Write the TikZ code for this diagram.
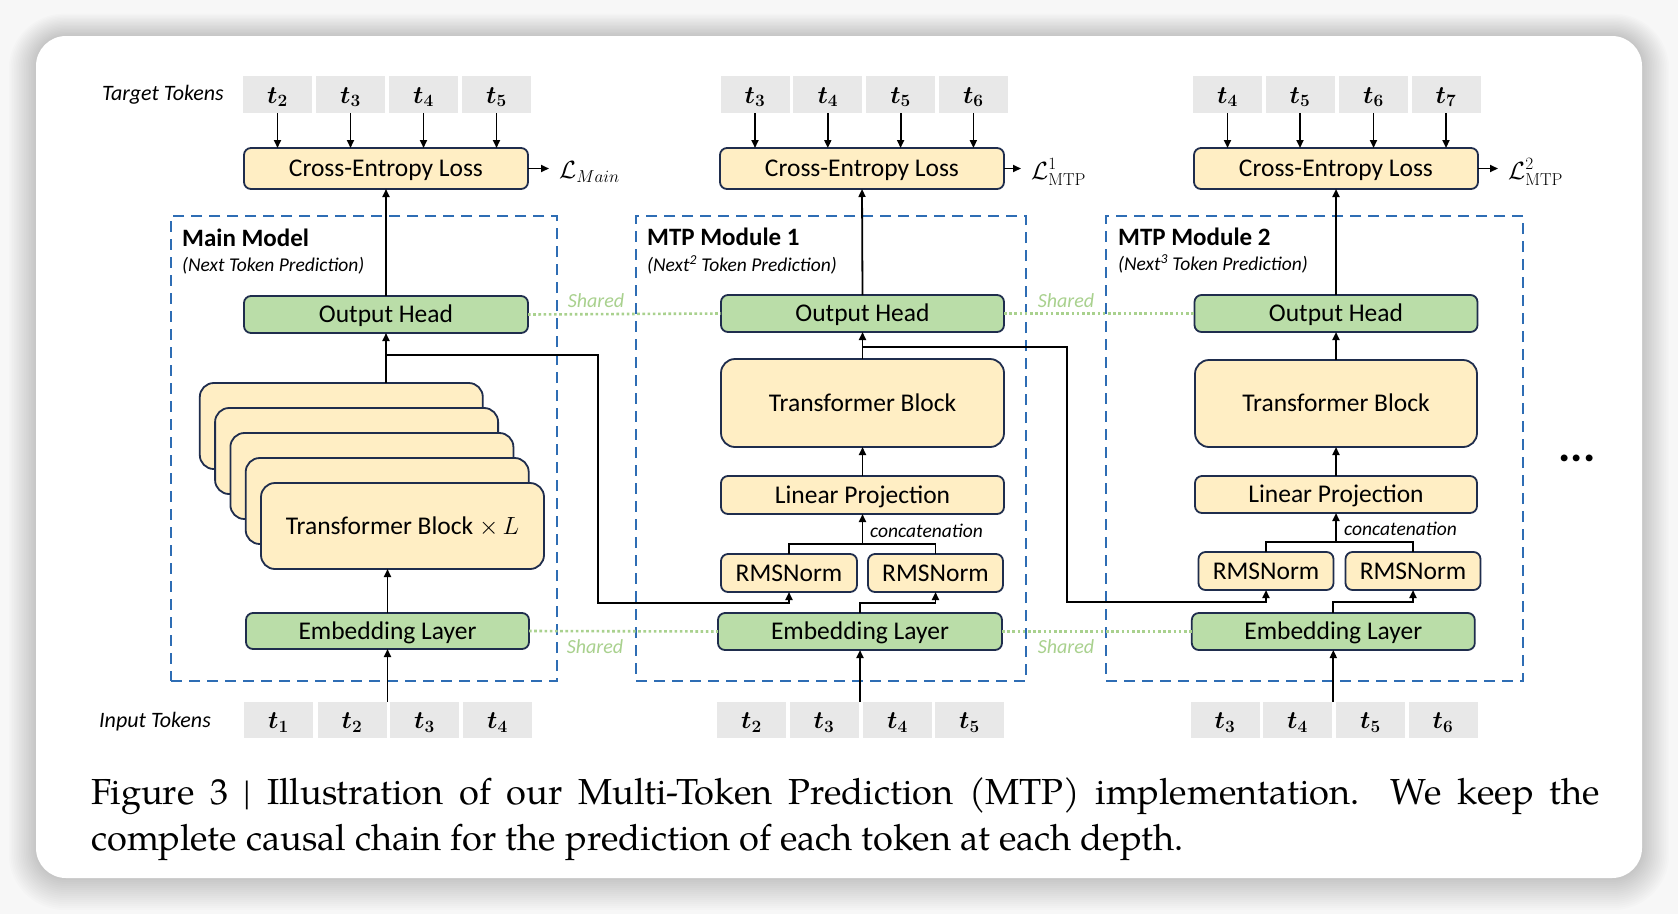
\documentclass[tikz,border=0pt]{standalone}
\usepackage[no-math]{fontspec}
\setmainfont{Carlito}
\newfontfamily\capfont{TeX Gyre Pagella}
\usetikzlibrary{arrows.meta,calc}
\definecolor{ylw}{HTML}{FFEEC4}
\definecolor{grn}{HTML}{BADDA8}
\definecolor{nav}{HTML}{1F2D4D}
\definecolor{dblue}{HTML}{2E6DB4}
\definecolor{shg}{HTML}{A9D18E}
\definecolor{tokg}{HTML}{E8E8E8}
\tikzset{
 blk/.style={draw=nav, line width=1.8pt, rounded corners=7pt, inner sep=0pt, outer sep=0pt, font=\fontsize{25.5}{30}\selectfont, text=black, text height=20pt, text depth=3.4pt},
 yblk/.style={blk, fill=ylw},
 gblk/.style={blk, fill=grn},
 bigblk/.style={yblk, rounded corners=14pt},
 tok/.style={fill=tokg, minimum width=69pt, minimum height=37pt, inner sep=0pt, outer sep=0pt, font=\fontsize{24}{28}\selectfont\boldmath, text height=20pt, text depth=3pt},
 arr/.style={line width=1.8pt, -{Triangle[length=8pt,width=7pt]}},
 ln/.style={line width=1.8pt},
 modbox/.style={draw=dblue, line width=2.6pt, dash pattern=on 11pt off 7pt, inner sep=0pt, outer sep=0pt},
 shline/.style={draw=shg, line width=2.6pt, dash pattern=on 2.6pt off 2.6pt},
 shtxt/.style={text=shg, font=\fontsize{20}{24}\selectfont\itshape, inner sep=0pt},
 lbl/.style={font=\fontsize{22}{26}\selectfont\itshape, inner sep=0pt, anchor=west},
 ttl/.style={font=\fontsize{25}{30}\selectfont\bfseries, inner sep=0pt, anchor=west},
 subt/.style={font=\fontsize{19.5}{24}\selectfont\itshape, inner sep=0pt, anchor=west},
 loss/.style={font=\fontsize{24}{28}\selectfont, inner sep=0pt, anchor=west},
 capf/.style={font=\capfont\fontsize{36.2}{46}\selectfont, inner sep=0pt, anchor=base west},
}
\begin{document}
\begin{tikzpicture}[x=1pt,y=-1pt]
\useasboundingbox (0,0) rectangle (1678,914);
% background and card
\fill[white!97!black] (0,0) rectangle (1678,914);
\foreach \k [evaluate=\k as \r using 30+\k*1.6] in {1,...,16}
  \fill[black, opacity=0.010, rounded corners=\r pt] ({36-\k*1.7},{36-\k*1.4}) rectangle ({1642+\k*1.7},{878+\k*2.0});
\fill[white, rounded corners=30pt] (36,36) rectangle (1642,878);

% ---------------- labels
\node[lbl] (tgtl) at (102,95) {Target Tokens};
\node[lbl] (inpl) at (99,722) {Input Tokens};

% ---------------- main model
\node[modbox, minimum width=386pt, minimum height=465pt] (mbox) at (364,448.5) {};
\node[ttl] (mtitle) at (182,238) {Main Model};
\node[subt] (msub) at (182,266) {(Next Token Prediction)};
\node[tok] (mt1) at (277.5,94.5) {$t_2$};
\node[tok] (mt2) at (350.5,94.5) {$t_3$};
\node[tok] (mt3) at (423.5,94.5) {$t_4$};
\node[tok] (mt4) at (496.5,94.5) {$t_5$};
\node[yblk, minimum width=284pt, minimum height=41pt] (mce) at (386,168.5) {Cross-Entropy Loss};
\node[loss] (mL) at (559,172) {$\mathcal{L}_{Main}$};
\node[gblk, minimum width=284pt, minimum height=37pt] (moh) at (386,314.5) {Output Head};
\foreach \i in {4,3,2,1}
  \node[bigblk, minimum width=283pt, minimum height=86pt] (ms\i) at ({402.5-\i*15.3},{526-\i*25}) {};
\node[bigblk, minimum width=283pt, minimum height=86pt] (mtb) at (402.5,526) {Transformer Block $\times\, L$};
\node[gblk, minimum width=283pt, minimum height=36pt] (memb) at (387.5,631) {Embedding Layer};
\node[tok, minimum height=36pt] (mi1) at (278.5,720) {$t_1$};
\node[tok, minimum height=36pt] (mi2) at (352,720) {$t_2$};
\node[tok, minimum height=36pt] (mi3) at (424.5,720) {$t_3$};
\node[tok, minimum height=36pt] (mi4) at (497.5,720) {$t_4$};

% ---------------- MTP module 1
\node[modbox, minimum width=390pt, minimum height=465pt] (abox) at (831,448.5) {};
\node[ttl] (atitle) at (647,237) {MTP Module 1};
\node[subt] (asub) at (647,265) {(Next\textsuperscript{2} Token Prediction)};
\node[tok] (at1) at (755,94.5) {$t_3$};
\node[tok] (at2) at (827.8,94.5) {$t_4$};
\node[tok] (at3) at (900.6,94.5) {$t_5$};
\node[tok] (at4) at (973.4,94.5) {$t_6$};
\node[yblk, minimum width=284pt, minimum height=41pt] (ace) at (862,168.5) {Cross-Entropy Loss};
\node[loss] (aL) at (1031,172) {$\mathcal{L}^{1}_{\mathrm{MTP}}$};
\node[gblk, minimum width=283pt, minimum height=37pt] (aoh) at (862.5,313.5) {Output Head};
\node[bigblk, minimum width=283pt, minimum height=88pt] (atb) at (862.5,403) {Transformer Block};
\node[yblk, minimum width=283pt, minimum height=38pt] (alp) at (862.5,495) {Linear Projection};
\node[yblk, minimum width=136pt, minimum height=38pt] (arl) at (789,573) {RMSNorm};
\node[yblk, minimum width=135pt, minimum height=38pt] (arr) at (935.5,573) {RMSNorm};
\node[gblk, minimum width=284pt, minimum height=37pt] (aemb) at (860,631.5) {Embedding Layer};
\node[tok, minimum height=36pt] (ai1) at (751.5,720) {$t_2$};
\node[tok, minimum height=36pt] (ai2) at (824,720) {$t_3$};
\node[tok, minimum height=36pt] (ai3) at (897.5,720) {$t_4$};
\node[tok, minimum height=36pt] (ai4) at (969.5,720) {$t_5$};
\node[subt] (acat) at (870,531) {concatenation};

% ---------------- MTP module 2
\node[modbox, minimum width=417pt, minimum height=465pt] (bbox) at (1314.5,448.5) {};
\node[ttl] (btitle) at (1118,237) {MTP Module 2};
\node[subt] (bsub) at (1118,264) {(Next\textsuperscript{3} Token Prediction)};
\node[tok] (bt1) at (1227.5,94.5) {$t_4$};
\node[tok] (bt2) at (1300,94.5) {$t_5$};
\node[tok] (bt3) at (1373.5,94.5) {$t_6$};
\node[tok] (bt4) at (1446,94.5) {$t_7$};
\node[yblk, minimum width=284pt, minimum height=41pt] (bce) at (1336,168.5) {Cross-Entropy Loss};
\node[loss] (bL) at (1508,172) {$\mathcal{L}^{2}_{\mathrm{MTP}}$};
\node[gblk, minimum width=283pt, minimum height=37pt] (boh) at (1336,313.5) {Output Head};
\node[bigblk, minimum width=282pt, minimum height=87pt] (btb) at (1336,403.5) {Transformer Block};
\node[yblk, minimum width=282pt, minimum height=37pt] (blp) at (1336,494.5) {Linear Projection};
\node[yblk, minimum width=135pt, minimum height=38pt] (brl) at (1266,571) {RMSNorm};
\node[yblk, minimum width=135pt, minimum height=38pt] (brr) at (1413,571) {RMSNorm};
\node[gblk, minimum width=283pt, minimum height=37pt] (bemb) at (1333.3,631.5) {Embedding Layer};
\node[tok, minimum height=36pt] (bi1) at (1225,720) {$t_3$};
\node[tok, minimum height=36pt] (bi2) at (1297.5,720) {$t_4$};
\node[tok, minimum height=36pt] (bi3) at (1370.5,720) {$t_5$};
\node[tok, minimum height=36pt] (bi4) at (1443,720) {$t_6$};
\node[subt] (bcat) at (1344,529) {concatenation};

\node[font=\fontsize{46}{46}\selectfont\bfseries, inner sep=0pt, anchor=base] (dots) at (1577,461) {...};

% ---------------- shared links
\draw[shline] (moh.east) -- (aoh.west);
\draw[shline] (aoh.east) -- (boh.west);
\draw[shline] (memb.east) -- (aemb.west);
\draw[shline] (aemb.east) -- (bemb.west);
\node[shtxt] (sh1) at (596,301) {Shared};
\node[shtxt] (sh2) at (1066,301) {Shared};
\node[shtxt] (sh3) at (595,647) {Shared};
\node[shtxt] (sh4) at (1066,647) {Shared};

% ---------------- arrows: targets
\foreach \p/\c in {m/mce,a/ace,b/bce}{
  \foreach \i in {1,2,3,4}
    \draw[arr] (\p t\i.south) -- (\p t\i.south |- \c.north);
}
\draw[arr, shorten >=10pt] (mce.east) -- (mce.east -| mL.west);
\draw[arr, shorten >=10pt] (ace.east) -- (ace.east -| aL.west);
\draw[arr, shorten >=10pt] (bce.east) -- (bce.east -| bL.west);
\draw[arr] (moh.north) -- (mce.south);
\draw[arr] (aoh.north) -- (ace.south);
\draw[arr] (boh.north) -- (bce.south);

% main model chain
\draw[arr] (ms4.north -| moh.south) -- (moh.south);
\draw[arr] (memb.north) -- (memb.north |- mtb.south);
\draw[arr] (memb.south |- mi2.north) -- (memb.south);
\coordinate (mbr) at (386,355);
\coordinate (r1) at (598,603);
\draw[arr] (mbr) -| (r1) -| (arl.south);

% MTP1 chain
\draw[arr] (atb.north) -- (aoh.south);
\draw[arr] (alp.north) -- (atb.south);
\coordinate (c1) at (862.5,544);
\draw[ln] (arl.north) |- (c1) -| (arr.north);
\draw[arr] (c1) -- (c1 |- alp.south);
\draw[arr] (aemb.north) -- (aemb.north |- r1) -| (arr.south);
\draw[arr] (aemb.south |- ai2.north) -- (aemb.south);
\coordinate (abr) at (862.5,347);
\coordinate (r2) at (1067,602);
\draw[arr] (abr) -| (r2) -| (brl.south);

% MTP2 chain
\draw[arr] (btb.north) -- (boh.south);
\draw[arr] (blp.north) -- (btb.south);
\coordinate (c2) at (1336,542);
\draw[ln] (brl.north) |- (c2) -| (brr.north);
\draw[arr] (c2) -- (c2 |- blp.south);
\draw[arr] (bemb.north) -- (bemb.north |- r2) -| (brr.south);
\draw[arr] (bemb.south |- bi2.north) -- (bemb.south);

% ---------------- caption
\node[capf] (cap1) at (91,804) {\makebox[1509pt][s]{Figure 3 | Illustration of our Multi-Token Prediction (MTP) implementation.\ \ We keep the}};
\node[capf] (cap2) at (91,850) {complete causal chain for the prediction of each token at each depth.};
\end{tikzpicture}
\end{document}
